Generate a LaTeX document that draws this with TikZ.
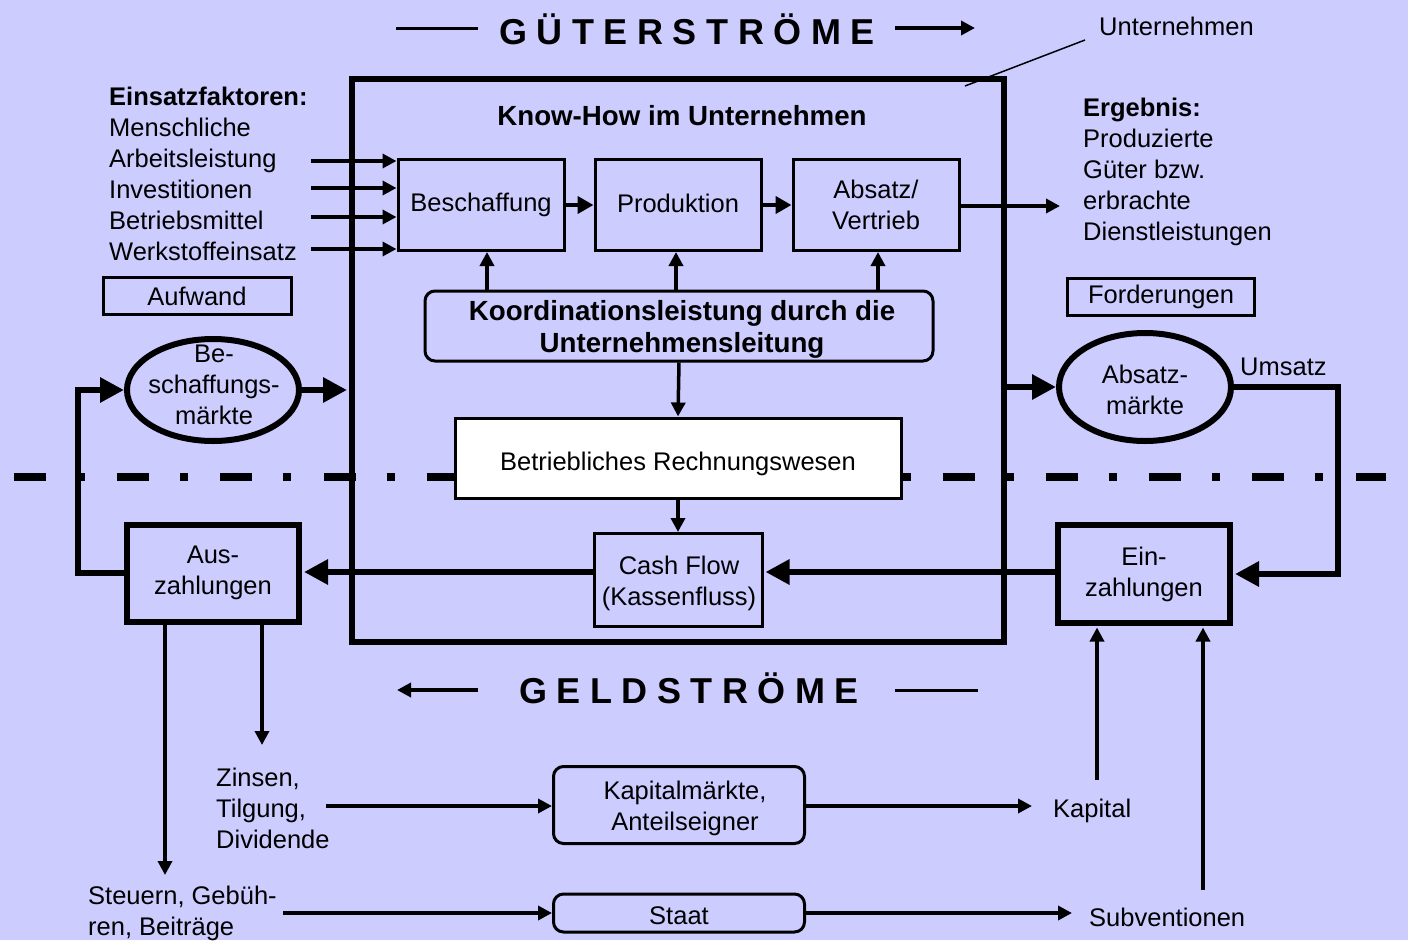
\documentclass[tikz,border=0pt]{standalone}
\usepackage{fontspec}
\setmainfont{Liberation Sans}
\usetikzlibrary{arrows.meta,shapes.geometric}
\definecolor{bg}{RGB}{204,204,255}
\newcommand{\lsp}{\hspace{9.5pt}}
\newcommand{\lowr}[2]{\raisebox{#1}[\height][\depth]{#2}}
\begin{document}
\begin{tikzpicture}[x=1pt,y=-1pt,
  every node/.style={font=\fontsize{25.5}{31}\selectfont, inner sep=0pt, align=center},
  thinbox/.style={draw, line width=3pt, minimum width=#1},
  rthinbox/.style={draw, line width=3pt, rounded corners=10pt},
  thickbox/.style={draw, line width=6pt},
  ell/.style={draw, ellipse, line width=6pt},
  arr/.style={line width=3.5pt, -{Triangle[length=14pt,width=14pt]}},
  marr/.style={line width=4.5pt, -{Triangle[length=16pt,width=17pt]}},
  barr/.style={line width=6pt, -{Triangle[length=24pt,width=24pt]}},
  plain/.style={line width=3pt},
  bigbold/.style={font=\fontsize{27.7}{32}\selectfont\bfseries},
  title/.style={font=\fontsize{36}{40}\selectfont\bfseries}]
\fill[bg] (0,0) rectangle (1408,940);
\useasboundingbox (0,0) rectangle (1408,940);

% dash-dot separation line
\draw[line width=8pt, dash pattern=on 32pt off 31pt on 8pt off 32.2pt] (14,477) -- (1386,477);

% titles
\node[title] (gt) at (687,29) {G\lsp Ü\lsp T\lsp E\lsp R\lsp S\lsp T\lsp R\lsp Ö\lsp M\lsp E};
\node[title] (gd) at (689,688) {G\lsp E\lsp L\lsp D\lsp S\lsp T\lsp R\lsp Ö\lsp M\lsp E};
\coordinate (gtl1) at (396,28); \coordinate (gtl2) at (478,28);
\coordinate (gtr1) at (895,28); \coordinate (gtr2) at (975,28);
\draw[plain] (gtl1) -- (gtl2);
\draw[arr] (gtr1) -- (gtr2);
\coordinate (gdl1) at (478,690); \coordinate (gdl2) at (397,690);
\coordinate (gdr1) at (895,690); \coordinate (gdr2) at (978,690);
\draw[arr] (gdl1) -- (gdl2);
\draw[plain] (gdr1) -- (gdr2);

% company box
\node[thickbox, minimum width=652, minimum height=563] (unt) at (678,360.5) {};
\node (untlab) [anchor=west] at (1099,26) {Unternehmen};
\coordinate (untp) at (965,86);
\coordinate (untq) at (1085,40);
\draw[line width=1.5pt] (untq) -- (untp);

\node[bigbold] (kh) at (682,116) {Know-How im Unternehmen};

% function boxes
\node[thinbox=166, minimum height=91] (besch) at (481,205) {Beschaffung};
\node[thinbox=166, minimum height=91] (prod) at (678,205) {\lowr{2pt}{Produktion}};
\node[thinbox=166, minimum height=91] (abs) at (876,205) {Absatz/\\Vertrieb};
\draw[marr] (besch.east) -- (prod.west);
\draw[marr] (prod.east) -- (abs.west);

\node[rthinbox, minimum width=508, minimum height=70, bigbold] (koord) at (679,326) {};
\node[bigbold] (koordt) at (682,329) {Koordinationsleistung durch die\\Unternehmensleitung};
\coordinate (k1) at (487,0); \coordinate (k2) at (676,0); \coordinate (k3) at (878,0);
\draw[arr] (koord.north -| k1) -- (besch.south -| k1);
\draw[arr] (koord.north -| k2) -- (prod.south -| k2);
\draw[arr] (koord.north -| k3) -- (abs.south -| k3);

\node[thinbox=446, minimum height=80, fill=white] (rw) at (678,458) {\lowr{-6pt}{Betriebliches Rechnungswesen}};
\draw[arr] (koord.south) -- (rw.north);
\node[thinbox=168, minimum height=93] (cash) at (678,580) {};
\node (casht) at (679,583) {Cash Flow\\(Kassenfluss)};
\draw[arr] (rw.south) -- (cash.north);

% inputs
\node[anchor=west, align=left] (einsatz) at (109,174) {\textbf{Einsatzfaktoren:}\\Menschliche\\Arbeitsleistung\\Investitionen\\Betriebsmittel\\Werkstoffeinsatz};
\foreach \yy/\nn in {161/a,188/b,217/c,249/d}{
  \coordinate (in\nn) at (311,\yy);
  \draw[arr] (in\nn) -- (in\nn -| besch.west);
}
% output
\node[anchor=west, align=left] (erg) at (1083,172) {\textbf{Ergebnis:}\\Produzierte\\Güter bzw.\\erbrachte\\Dienstleistungen};
\coordinate (out) at (1060,206);
\draw[arr] (abs.east |- out) -- (out);

\node[thinbox=188, minimum height=37] (aufw) at (197,296) {Aufwand};
\node[thinbox=187, minimum height=37] (ford) at (1161,297) {Forderungen};

% markets
\node[ell, minimum width=172, minimum height=102] (bm) at (213,390) {};
\node (bmt) at (214,385) {Be-\\schaffungs-\\märkte};
\node[ell, minimum width=172, minimum height=108] (am) at (1145,387) {};
\node (amt) at (1145,390) {Absatz-\\märkte};
\node[anchor=west] (ums) at (1240,367) {Umsatz};

% money boxes
\node[thickbox, minimum width=172, minimum height=97] (aus) at (213,573) {Aus-\\zahlungen};
\node[thickbox, minimum width=172, minimum height=98] (ein) at (1144,574) {Ein-\\zahlungen};

% thick flows
\coordinate (fy) at (0,572);
\draw[barr, shorten >=2pt] (bm.east) -- (bm.east -| unt.west);
\draw[barr] (am.west -| unt.east) -- (am.west);
\draw[barr, shorten >=2pt] (am.east) -- ++(104,0) |- (ein.east);
\draw[barr, shorten >=2pt] (ein.west |- fy) -- (cash.east |- fy);
\draw[barr, shorten >=2pt] (cash.west |- fy) -- (aus.east |- fy);
\draw[barr] (aus.west) -- ++(-46,0) |- (bm.west);

% bottom
\node[anchor=west, align=left] (zins) at (216,808) {Zinsen,\\Tilgung,\\Dividende};
\node[anchor=west, align=left] (steu) at (88,913) {Steuern, Gebüh-\\ren, Beiträge};
\node[rthinbox, minimum width=251, minimum height=77] (kap) at (679,805) {};
\node (kapt) at (685,808) {Kapitalmärkte,\\Anteilseigner};
\node[rthinbox, minimum width=251, minimum height=38] (staat) at (679,913) {\lowr{-3pt}{Staat}};
\node[anchor=west] (kapl) at (1053,811) {Kapital};
\node[anchor=west] (subv) at (1089,917) {Subventionen};

\coordinate (a1) at (165,875); \coordinate (a2) at (262,745);
\draw[arr] (aus.south -| a1) -- (a1);
\draw[arr] (aus.south -| a2) -- (a2);
\coordinate (z1) at (326,806);
\draw[arr] (z1) -- (kap.west |- z1);
\coordinate (k4) at (1032,806);
\draw[arr] (kap.east |- k4) -- (k4);
\coordinate (s1) at (283,913);
\draw[arr] (s1) -- (staat.west |- s1);
\coordinate (s2) at (1072,913);
\draw[arr] (staat.east |- s2) -- (s2);
\coordinate (e1) at (1097,780); \coordinate (e2) at (1203,890);
\draw[arr, shorten >=1.5pt] (e1) -- (ein.south -| e1);
\draw[arr, shorten >=1.5pt] (e2) -- (ein.south -| e2);
\end{tikzpicture}
\end{document}
